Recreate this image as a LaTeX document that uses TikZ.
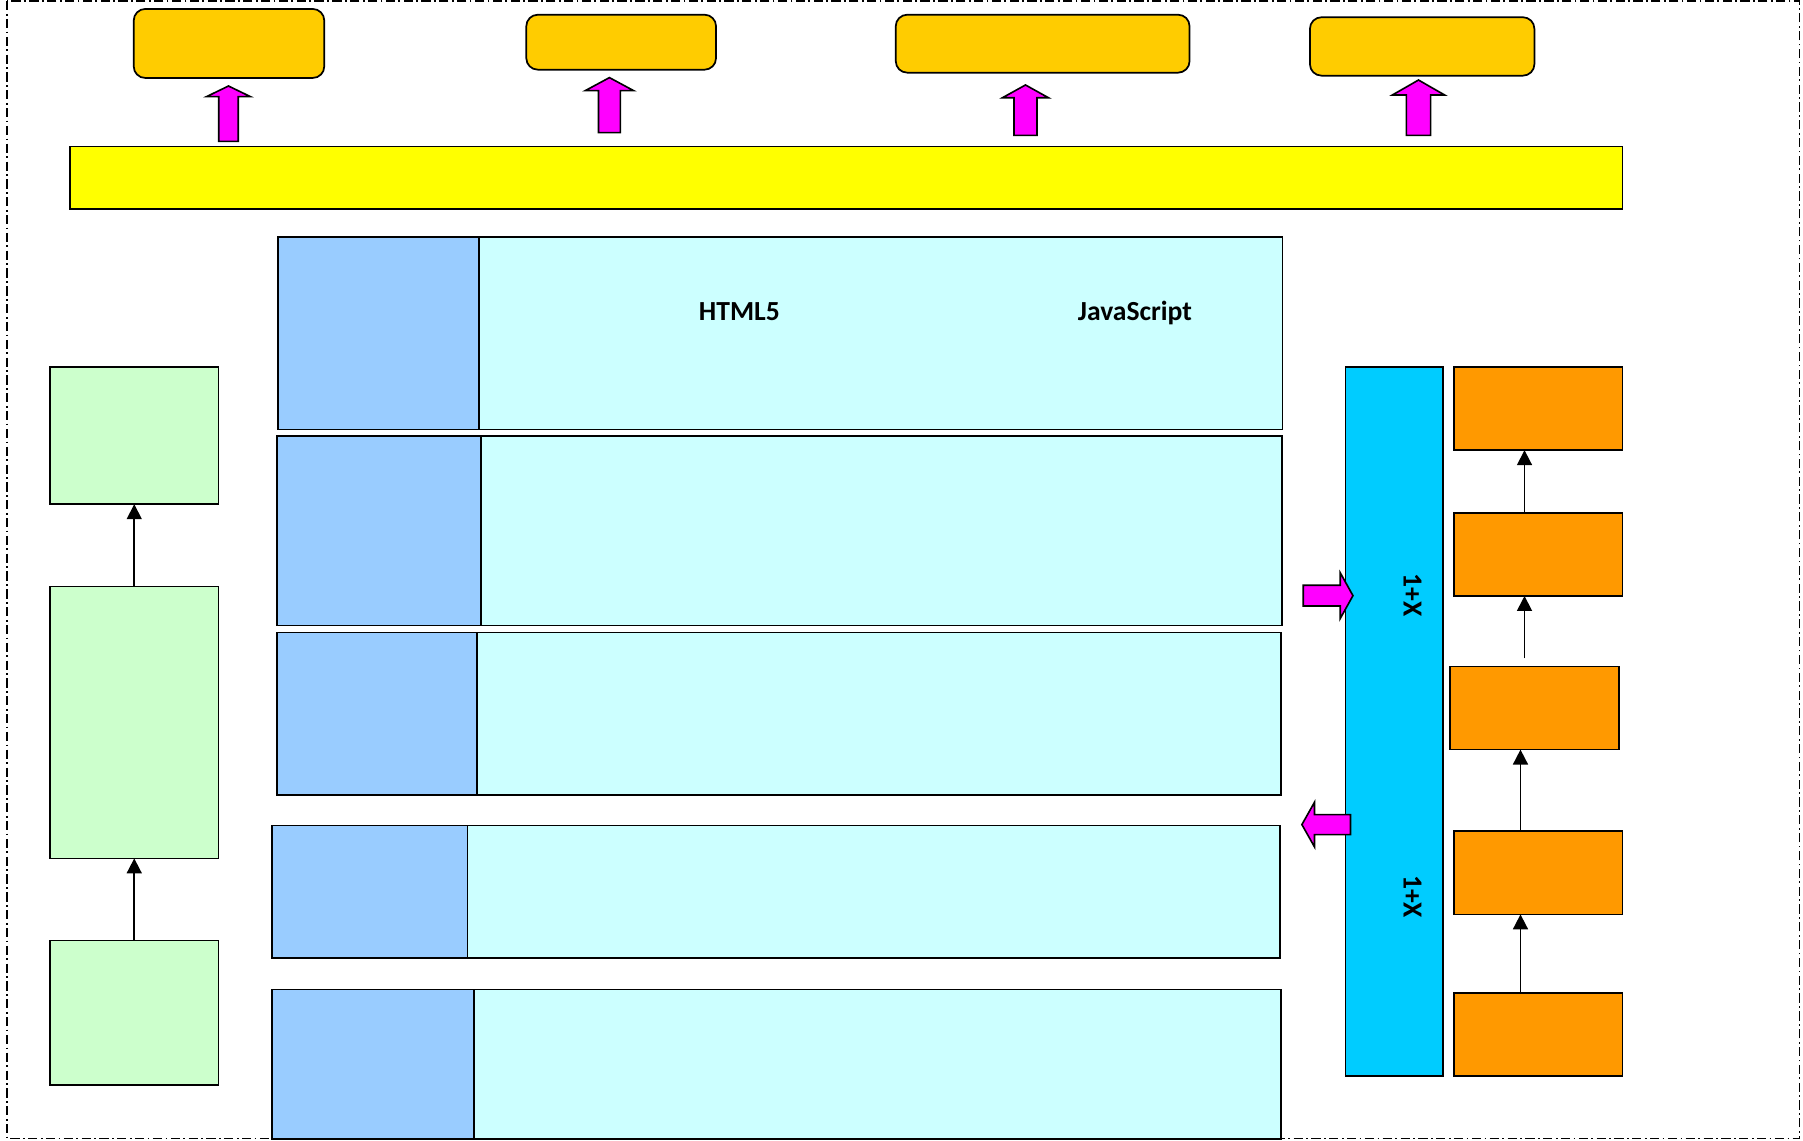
\documentclass[tikz,border=0pt]{standalone}
\usepackage{fontspec}
\setmainfont{Carlito}
\usetikzlibrary{arrows.meta}
\definecolor{gold}{HTML}{FFCC00}
\definecolor{ybar}{HTML}{FFFF00}
\definecolor{lgreen}{HTML}{CCFFCC}
\definecolor{lblue}{HTML}{99CCFF}
\definecolor{lcyan}{HTML}{CCFFFF}
\definecolor{cyanbar}{HTML}{00CCFF}
\definecolor{orng}{HTML}{FF9900}
\definecolor{mag}{HTML}{FF00FF}
\newcommand\blkup[7]{% cx, tip, headbase, bottom, halfhead, halfshaft, name
  \draw[blk] (#1-#6,#4) -- (#1-#6,#3) -- (#1-#5,#3) -- (#1,#2) -- (#1+#5,#3) -- (#1+#6,#3) -- (#1+#6,#4) -- cycle;}
\newcommand\blkh[6]{% tail x, headbase x, tip x, cy, halfshaft, halfhead
  \draw[blk] (#1,#4-#5) -- (#2,#4-#5) -- (#2,#4-#6) -- (#3,#4) -- (#2,#4+#6) -- (#2,#4+#5) -- (#1,#4+#5) -- cycle;}
\begin{document}
\begin{tikzpicture}[x=1pt,y=-1pt,
  every node/.style={inner sep=0pt,outer sep=0pt},
  box/.style={draw,line width=1.5pt,rectangle,anchor=north west},
  topbox/.style={box,fill=gold,rounded corners=10pt},
  blk/.style={draw,line width=1.4pt,fill=mag,line join=miter},
  conn/.style={line width=1.5pt,-{Triangle[width=13pt,length=13pt]}},
  lbl/.style={font=\bfseries\fontsize{24}{28}\selectfont}]
\useasboundingbox (0,0) rectangle (1568,992);
\draw[line width=1.2pt,dash pattern=on 8pt off 3pt on 1.5pt off 3pt] (6,1) rectangle (1565,990);

% top boxes
\node[topbox,minimum width=165.7pt,minimum height=60pt] (t1) at (116.3,7.8) {};
\node[topbox,minimum width=165pt,minimum height=47.8pt] (t2) at (457.7,12.8) {};
\node[topbox,minimum width=255.5pt,minimum height=50.4pt] (t3) at (779,12.8) {};
\node[topbox,minimum width=195.2pt,minimum height=50.8pt] (t4) at (1139.2,15) {};

% yellow bar
\node[box,fill=ybar,minimum width=1350pt,minimum height=54.5pt] (bar) at (60.9,127.5) {};

% block arrows up
\blkup{198.7}{74.8}{84}{122.9}{19}{8.5}{a1}
\blkup{530}{67.5}{78.8}{115.4}{21}{9.5}{a2}
\blkup{891.8}{73.9}{85}{117.7}{20}{10}{a3}
\blkup{1233.6}{69.6}{82.6}{117.7}{22.7}{10.5}{a4}

% rows
\node[box,fill=lblue,minimum width=174.7pt,minimum height=167.8pt] (r1l) at (241.8,205.8) {};
\node[box,fill=lcyan,minimum width=698.8pt,minimum height=167.8pt] (r1r) at (416.5,205.8) {};
\node[box,fill=lblue,minimum width=177pt,minimum height=165pt] (r2l) at (241,379) {};
\node[box,fill=lcyan,minimum width=697pt,minimum height=165pt] (r2r) at (418,379) {};
\node[box,fill=lblue,minimum width=174pt,minimum height=141.3pt] (r3l) at (241,550) {};
\node[box,fill=lcyan,minimum width=699pt,minimum height=141.3pt] (r3r) at (415,550) {};
\node[box,fill=lblue,minimum width=170.1pt,minimum height=115.3pt] (r4l) at (236.5,718) {};
\node[box,fill=lcyan,minimum width=706.4pt,minimum height=115.3pt] (r4r) at (406.6,718) {};
\node[box,fill=lblue,minimum width=175.5pt,minimum height=130.1pt] (r5l) at (236.5,860.6) {};
\node[box,fill=lcyan,minimum width=702.2pt,minimum height=130.1pt] (r5r) at (412,860.6) {};

\node[lbl,anchor=base] (html) at (643,278.5) {HTML5};
\node[lbl,anchor=base] (js) at (987,278.5) {JavaScript};

% left green boxes
\node[box,fill=lgreen,minimum width=146.5pt,minimum height=119.3pt] (g1) at (43.5,319.2) {};
\node[box,fill=lgreen,minimum width=146.5pt,minimum height=236.5pt] (g2) at (43.5,510) {};
\node[box,fill=lgreen,minimum width=146.5pt,minimum height=126pt] (g3) at (43.5,817.8) {};
\draw[conn] (g2.north) -- (g1.south);
\draw[conn] (g3.north) -- (g2.south);

% cyan column
\node[box,fill=cyanbar,minimum width=84.8pt,minimum height=616.5pt] (col) at (1170,319.2) {};
\node[lbl,rotate=-90] (x1) at (1228.4,517.4) {1+X};
\node[lbl,rotate=-90] (x2) at (1228.4,779.7) {1+X};

% side block arrows
\blkh{1133.4}{1165.5}{1176.6}{518}{9}{20}
\blkh{1174.5}{1143.2}{1132.2}{717.1}{8.7}{19.5}

% orange boxes
\node[box,fill=orng,minimum width=146.4pt,minimum height=72.3pt] (o1) at (1264.6,319.2) {};
\node[box,fill=orng,minimum width=146.4pt,minimum height=72.3pt] (o2) at (1264.6,446) {};
\node[box,fill=orng,minimum width=146.6pt,minimum height=72.3pt] (o3) at (1261.2,579.6) {};
\node[box,fill=orng,minimum width=146.4pt,minimum height=72.3pt] (o4) at (1264.6,722.9) {};
\node[box,fill=orng,minimum width=146.4pt,minimum height=72.3pt] (o5) at (1264.6,863.5) {};
\coordinate (ax1) at (1325.8,0);
\coordinate (ax2) at (1322.3,0);
\coordinate (o3free) at (1325.8,572.5);
\draw[conn] (o2.north -| ax1) -- (o1.south -| ax1);
\draw[conn] (o3free) -- (o2.south -| ax1);
\draw[conn] (o4.north -| ax2) -- (o3.south -| ax2);
\draw[conn] (o5.north -| ax2) -- (o4.south -| ax2);
\end{tikzpicture}
\end{document}
